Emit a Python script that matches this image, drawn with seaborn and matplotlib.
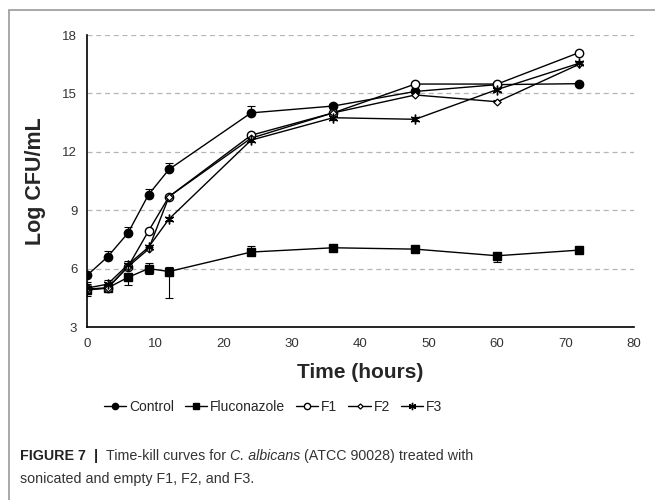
import numpy as np
import pandas as pd
import matplotlib
matplotlib.use("Agg")
import matplotlib.pyplot as plt
from matplotlib.lines import Line2D
from matplotlib.patches import Rectangle
import seaborn as sns

# Данные: время (ч) и Log CFU/mL
hours = [0, 3, 6, 9, 12, 24, 36, 48, 60, 72]
control = [5.65, 6.6, 7.83, 9.8, 11.1, 14.0, 14.35, 15.1, 15.45, 15.5]
fluconazole = [4.9, 5.0, 5.55, 6.0, 5.85, 6.85, 7.07, 7.0, 6.66, 6.95]
f1 = [4.95, 5.0, 6.1, 7.93, 9.7, 12.85, 14.0, 15.48, 15.48, 17.1]
f2 = [4.95, 5.0, 6.1, 7.0, 9.7, 12.7, 14.0, 14.92, 14.57, 16.5]
f3 = [5.0, 5.2, 6.2, 7.1, 8.55, 12.6, 13.75, 13.67, 15.2, 16.55]

# погрешности (вверх / вниз)
control_up = [0.0, 0.3, 0.3, 0.3, 0.3, 0.35, 0.1, 0.1, 0.1, 0.1]
control_lo = [0.0] * 10
flu_up = [0.3, 0.1, 0.1, 0.3, 0.25, 0.3, 0.1, 0.1, 0.1, 0.1]
flu_lo = [0.3, 0.1, 0.4, 0.3, 1.35, 0.1, 0.1, 0.1, 0.3, 0.1]
f1_up = [0.1] * 10
f1_lo = [0.0] * 10
f2_up = [0.1] * 10
f2_lo = [0.0] * 10
f3_up = [0.3, 0.2, 0.2, 0.1, 0.1, 0.1, 0.1, 0.1, 0.1, 0.1]
f3_lo = [0.1] * 10

names = ["Control", "Fluconazole", "F1", "F2", "F3"]
values = [control, fluconazole, f1, f2, f3]
ups = [control_up, flu_up, f1_up, f2_up, f3_up]
los = [control_lo, flu_lo, f1_lo, f2_lo, f3_lo]

y_ticks = [3, 6, 9, 12, 15, 18]
x_ticks = [0, 10, 20, 30, 40, 50, 60, 70, 80]

sns.set_style("white")
plt.rcParams["font.family"] = ["Liberation Sans", "DejaVu Sans"]

styles = {
    "Control": dict(marker="o", ms=6, mfc="black", mew=1),
    "Fluconazole": dict(marker="s", ms=6, mfc="black", mew=1),
    "F1": dict(marker="o", ms=6, mfc="white", mew=1),
    "F2": dict(marker="D", ms=3.5, mfc="white", mew=0.9),
    "F3": dict(marker=(6, 2, 0), ms=7, mfc="black", mew=1),
}

fig = plt.figure(figsize=(6.55, 5.0), dpi=100)
ax = fig.add_axes([87 / 655, 1 - 327 / 500, (634 - 87) / 655, (327 - 35) / 500])

df = pd.DataFrame({"hours": hours * 5,
                   "value": sum(values, []),
                   "group": sum([[n] * len(hours) for n in names], [])})

for name, v, up, lo in zip(names, values, ups, los):
    ax.errorbar(hours, v, yerr=[lo, up], fmt="none", ecolor="black",
                elinewidth=0.8, capsize=3, capthick=0.8, zorder=2)
    st = styles[name]
    sns.lineplot(data=df[df["group"] == name], x="hours", y="value", ax=ax,
                 color="black", linewidth=1, marker=st["marker"],
                 markersize=st["ms"], markerfacecolor=st["mfc"],
                 markeredgecolor="black", markeredgewidth=st["mew"],
                 legend=False, zorder=3)

ax.set_xlim(0, 80)
ax.set_ylim(3, 18)
ax.set_xticks(x_ticks)
ax.set_yticks(y_ticks)
for y in y_ticks[1:]:
    ax.axhline(y, color="#b5b5b5", linestyle=(0, (4, 3)), linewidth=0.9, zorder=0)
ax.tick_params(axis="both", labelsize=9.5, colors="#333333", length=0)
ax.tick_params(axis="x", pad=8)
ax.tick_params(axis="y", length=3, width=1, color="black", direction="out", pad=4)
sns.despine(ax=ax)
for s in ["left", "bottom"]:
    ax.spines[s].set_color("black")
    ax.spines[s].set_linewidth(1.2)

ax.set_xlabel("Time (hours)", fontsize=15, fontweight="bold", labelpad=9)
ax.set_ylabel("Log CFU/mL", fontsize=15.5, fontweight="bold", labelpad=12)

handles = []
for name in names:
    st = styles[name]
    handles.append(Line2D([], [], color="black", linewidth=1, marker=st["marker"],
                          markersize=st["ms"] * 0.75, markerfacecolor=st["mfc"],
                          markeredgecolor="black", markeredgewidth=st["mew"]))
fig.legend(handles, names, loc="center", bbox_to_anchor=(273 / 655, 1 - 407 / 500),
           ncol=5, frameon=False, handlelength=1.6, fontsize=10,
           handletextpad=0.2, columnspacing=0.8)

# рамка вокруг рисунка
fig.patches.append(Rectangle((9 / 655, -0.1), 1.2, 1.08 - 10 / 500 + 0.02,
                             transform=fig.transFigure, fill=False,
                             edgecolor="#9a9a9a", linewidth=1.2))

# подпись
fig.canvas.draw()
renderer = fig.canvas.get_renderer()
x = 20 / 655
y1 = 1 - 456 / 500
parts = [("FIGURE 7", "bold", "normal", "#222222"),
         ("  |  ", "bold", "normal", "#222222"),
         ("Time-kill curves for ", "normal", "normal", "#333333"),
         ("C. albicans", "normal", "italic", "#333333"),
         (" (ATCC 90028) treated with", "normal", "normal", "#333333")]
for txt, w, s, c in parts:
    t = fig.text(x, y1, txt, fontsize=10.3, fontweight=w, fontstyle=s, color=c,
                 va="center", ha="left")
    bb = t.get_window_extent(renderer)
    x += bb.width / fig.bbox.width
fig.text(20 / 655, 1 - 479 / 500, "sonicated and empty F1, F2, and F3.",
         fontsize=10.3, color="#333333", va="center", ha="left")

fig.savefig("out.png", dpi=100)
